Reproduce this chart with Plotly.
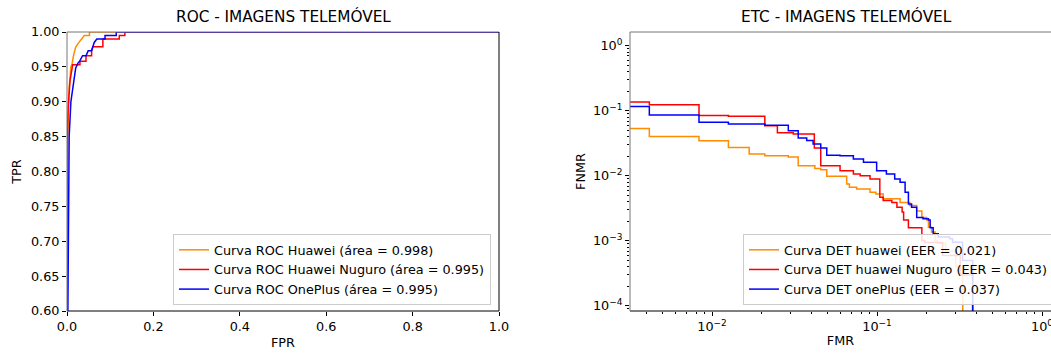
import plotly.graph_objects as go

# ---------------- ROC data ----------------
roc_huawei_fpr = [0.0, 0.0, 0.002, 0.005, 0.009, 0.012, 0.015, 0.018, 0.020, 0.025, 0.030, 0.035, 0.040, 0.052, 0.052, 1.0]
roc_huawei_tpr = [0.0, 0.70, 0.85, 0.92, 0.950, 0.955, 0.966, 0.972, 0.978, 0.983, 0.987, 0.990, 0.995, 0.995, 1.0, 1.0]

roc_nuguro_fpr = [0.0, 0.0, 0.003, 0.007, 0.013, 0.030, 0.030, 0.044, 0.044, 0.057, 0.057, 0.060, 0.083, 0.083, 0.121, 0.121, 0.134, 0.134, 1.0]
roc_nuguro_tpr = [0.0, 0.84, 0.895, 0.930, 0.953, 0.953, 0.958, 0.958, 0.966, 0.966, 0.974, 0.979, 0.979, 0.990, 0.990, 0.995, 0.995, 1.0, 1.0]

roc_oneplus_fpr = [0.0, 0.0, 0.002, 0.005, 0.009, 0.020, 0.025, 0.030, 0.036, 0.044, 0.049, 0.057, 0.063, 0.069, 0.088, 0.088, 0.114, 0.114, 1.0]
roc_oneplus_tpr = [0.0, 0.55, 0.60, 0.85, 0.90, 0.948, 0.955, 0.959, 0.966, 0.966, 0.973, 0.973, 0.985, 0.990, 0.990, 0.995, 0.995, 1.0, 1.0]

roc_names = ["Curva ROC Huawei (área = 0.998)",
             "Curva ROC Huawei Nuguro (área = 0.995)",
             "Curva ROC OnePlus (área = 0.995)"]

# ---------------- DET data ----------------
det_huawei_fmr = [0.003, 0.00417, 0.00834, 0.01257, 0.0168, 0.0209, 0.029, 0.0333, 0.042, 0.0456, 0.0496,
                  0.0655, 0.068, 0.0753, 0.0907, 0.0985, 0.109, 0.138, 0.158, 0.174, 0.187, 0.200, 0.205,
                  0.214, 0.225, 0.232, 0.26, 0.30, 0.331]
det_huawei_fnmr = [0.0536, 0.0404, 0.0348, 0.0275, 0.0217, 0.0205, 0.0195, 0.0144, 0.013, 0.0125, 0.0099,
                   0.0075, 0.0067, 0.0063, 0.0056, 0.0053, 0.00445, 0.0039, 0.0035, 0.0029, 0.0023, 0.0021, 0.00163,
                   0.00137, 0.00102, 0.00092, 0.0007, 0.0004, 1e-6]

det_nuguro_fmr = [0.003, 0.00417, 0.00834, 0.01257, 0.0209, 0.0249, 0.0311, 0.0417, 0.0456, 0.0597, 0.0719,
                  0.079, 0.0907, 0.104, 0.109, 0.123, 0.132, 0.142, 0.145, 0.155, 0.187, 0.195, 0.25, 0.32, 0.38]
det_nuguro_fnmr = [0.137, 0.124, 0.0848, 0.083, 0.059, 0.046, 0.044, 0.0268, 0.0144, 0.012, 0.0107,
                   0.0101, 0.0090, 0.0047, 0.0042, 0.0039, 0.0033, 0.0028, 0.0021, 0.0016, 0.00102, 0.00095, 0.0006, 0.0003, 1e-6]

det_oneplus_fmr = [0.003, 0.00417, 0.00834, 0.01257, 0.0209, 0.029, 0.0333, 0.0375, 0.041, 0.0456, 0.0496,
                   0.0597, 0.0719, 0.0828, 0.0995, 0.114, 0.128, 0.138, 0.148, 0.155, 0.162, 0.174, 0.19,
                   0.205, 0.21, 0.219, 0.235, 0.276, 0.287, 0.33, 0.38]
det_oneplus_fnmr = [0.1165, 0.0869, 0.0672, 0.0632, 0.060, 0.0494, 0.0382, 0.035, 0.0309, 0.027, 0.0209,
                    0.0205, 0.0182, 0.0162, 0.0120, 0.0107, 0.0090, 0.0080, 0.0056, 0.0037, 0.0033, 0.0023, 0.0022,
                    0.0021, 0.0016, 0.00129, 0.00115, 0.00108, 0.00096, 0.0005, 1e-6]

det_names = ["Curva DET huawei (EER = 0.021)",
             "Curva DET huawei Nuguro (EER = 0.043)",
             "Curva DET onePlus (EER = 0.037)"]

colors = ["#ff8c00", "#ff0000", "#0000ff"]

roc_x_ticks = [0.0, 0.2, 0.4, 0.6, 0.8, 1.0]
roc_y_ticks = [0.60, 0.65, 0.70, 0.75, 0.80, 0.85, 0.90, 0.95, 1.00]
det_major = [1e-4, 1e-3, 1e-2, 1e-1, 1e0]
det_major_text = ["10<sup>−4</sup>", "10<sup>−3</sup>", "10<sup>−2</sup>", "10<sup>−1</sup>", "10<sup>0</sup>"]

# ---------------- figure ----------------
W, H = 1051, 353
FONT = "DejaVu Sans"
FS = 12.8
TFS = 15.3
fig = go.Figure()

roc_sets = [(roc_huawei_fpr, roc_huawei_tpr), (roc_nuguro_fpr, roc_nuguro_tpr), (roc_oneplus_fpr, roc_oneplus_tpr)]
for (xs, ys), name, c in zip(roc_sets, roc_names, colors):
    fig.add_trace(go.Scatter(x=xs, y=ys, mode="lines", name=name, line=dict(color=c, width=1.5),
                             xaxis="x", yaxis="y", legend="legend"))

det_sets = [(det_huawei_fmr, det_huawei_fnmr), (det_nuguro_fmr, det_nuguro_fnmr), (det_oneplus_fmr, det_oneplus_fnmr)]
for (xs, ys), name, c in zip(det_sets, det_names, colors):
    fig.add_trace(go.Scatter(x=xs, y=ys, mode="lines", name=name, line=dict(color=c, width=1.5, shape="hv"),
                             xaxis="x2", yaxis="y2", legend="legend2"))

def px(x):
    return x / W

def py(y):
    return 1 - y / H

L1, R1 = 67, 499
L2, R2 = 630, 1051
T, B = 32, 311

minor_vals = []
for e in range(-5, 1):
    for m in range(2, 10):
        minor_vals.append(m * 10 ** e)

axis_common = dict(showgrid=False, zeroline=False, showline=False, ticks="outside", ticklen=4,
                   tickcolor="black", tickwidth=1, automargin=False, ticklabeloverflow="allow",
                   tickfont=dict(family=FONT, size=FS, color="black"))

fig.update_layout(
    width=W, height=H,
    margin=dict(l=0, r=0, t=0, b=0, autoexpand=False),
    paper_bgcolor="white", plot_bgcolor="white",
    font=dict(family=FONT, color="black"),
    xaxis=dict(domain=[px(L1), px(R1)], range=[0, 1], tickvals=roc_x_ticks,
               ticktext=[f"{v:.1f}" for v in roc_x_ticks], anchor="y",
               title=dict(text="FPR", font=dict(family=FONT, size=FS), standoff=4), **axis_common),
    yaxis=dict(domain=[py(B), py(T)], range=[0.6, 1.0], tickvals=roc_y_ticks,
               ticktext=[f"{v:.2f}" for v in roc_y_ticks], anchor="x",
               title=dict(text="TPR", font=dict(family=FONT, size=FS), standoff=6), **axis_common),
    xaxis2=dict(domain=[px(L2), px(R2)], type="log", range=[-2.497, 0.0545], anchor="y2",
                tickvals=det_major, ticktext=det_major_text,
                minor=dict(tickvals=minor_vals, ticks="outside", ticklen=2, tickcolor="black"),
                title=dict(text="FMR", font=dict(family=FONT, size=FS), standoff=2), **axis_common),
    yaxis2=dict(domain=[py(B), py(T)], type="log", range=[-4.077, 0.214], anchor="x2",
                tickvals=det_major, ticktext=det_major_text,
                minor=dict(tickvals=minor_vals, ticks="outside", ticklen=2, tickcolor="black"),
                title=dict(text="FNMR", font=dict(family=FONT, size=FS), standoff=4), **axis_common),
    legend=dict(x=px(491), y=py(305), xanchor="right", yanchor="bottom",
                bgcolor="rgba(255,255,255,0.85)", bordercolor="#cccccc", borderwidth=1,
                font=dict(family=FONT, size=FS), itemwidth=30, tracegroupgap=0),
    legend2=dict(x=px(743), y=py(305), xanchor="left", yanchor="bottom",
                 bgcolor="rgba(255,255,255,0.85)", bordercolor="#cccccc", borderwidth=1,
                 font=dict(family=FONT, size=FS), itemwidth=30, tracegroupgap=0),
    showlegend=True,
    annotations=[
        dict(text="ROC - IMAGENS TELEMÓVEL", x=px((L1 + R1) / 2), y=py(17), xref="paper", yref="paper",
             showarrow=False, font=dict(family=FONT, size=TFS, color="black"), xanchor="center", yanchor="middle"),
        dict(text="ETC - IMAGENS TELEMÓVEL", x=px((L2 + 1062) / 2), y=py(17), xref="paper", yref="paper",
             showarrow=False, font=dict(family=FONT, size=TFS, color="black"), xanchor="center", yanchor="middle"),
    ],
)

# spines
shapes = []
for (l, r, draw_right) in [(L1, R1, True), (L2, R2, False)]:
    shapes.append(dict(type="line", xref="paper", yref="paper", x0=px(l), x1=px(r), y0=py(B), y1=py(B),
                       line=dict(color="black", width=1)))
    shapes.append(dict(type="line", xref="paper", yref="paper", x0=px(l), x1=px(r), y0=py(T), y1=py(T),
                       line=dict(color="#777777", width=1)))
    shapes.append(dict(type="line", xref="paper", yref="paper", x0=px(l), x1=px(l), y0=py(B), y1=py(T),
                       line=dict(color="#777777", width=1)))
    if draw_right:
        shapes.append(dict(type="line", xref="paper", yref="paper", x0=px(r), x1=px(r), y0=py(B), y1=py(T),
                           line=dict(color="black", width=1)))
fig.update_layout(shapes=shapes)

fig.write_html("out.html")
